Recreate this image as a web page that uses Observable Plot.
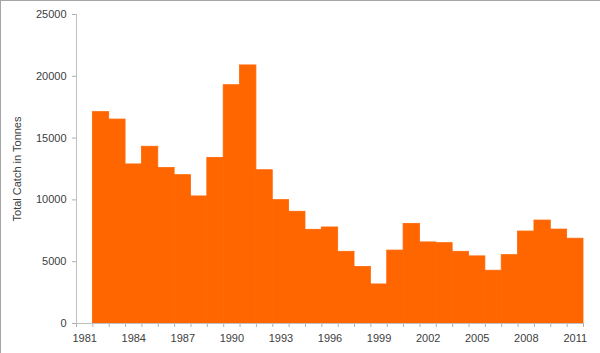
<!DOCTYPE html>
<html>
<head>
<meta charset="utf-8">
<script src="https://cdn.jsdelivr.net/npm/d3@7"></script>
<script src="https://cdn.jsdelivr.net/npm/@observablehq/plot@0.6"></script>
<style>
  html, body { margin: 0; padding: 0; background: #fff; }
  #wrap { position: relative; width: 600px; height: 353px; overflow: hidden; }
  #border { position: absolute; left: 0; top: 0; width: 600px; height: 353px; box-sizing: border-box;
            border-top: 1px solid #a6a6a6; border-left: 1px solid #a6a6a6; pointer-events: none; }
</style>
</head>
<body>
<div id="wrap"><div id="chart"></div><div id="border"></div></div>
<script>
const years = [1982, 1983, 1984, 1985, 1986, 1987, 1988, 1989, 1990, 1991,
               1992, 1993, 1994, 1995, 1996, 1997, 1998, 1999, 2000, 2001,
               2002, 2003, 2004, 2005, 2006, 2007, 2008, 2009, 2010, 2011];
const catchTonnes = [17100, 16500, 12870, 14300, 12580, 12000, 10280, 13400, 19280, 20880,
                     12400, 9980, 9040, 7580, 7770, 5800, 4570, 3160, 5900, 8060,
                     6560, 6500, 5800, 5430, 4270, 5530, 7440, 8330, 7600, 6860];
const xTickLabels = [1981, 1984, 1987, 1990, 1993, 1996, 1999, 2002, 2005, 2008, 2011];
const yTickValues = [0, 5000, 10000, 15000, 20000, 25000];
const xDomain = [1980.5, 2011.5];

const data = years.map((year, i) => ({year, value: catchTonnes[i]}));
const slotEdges = d3.range(xDomain[0], xDomain[1] + 0.01, 1);

const chart = Plot.plot({
  width: 600,
  height: 353,
  marginLeft: 76,
  marginRight: 17,
  marginTop: 14,
  marginBottom: 30,
  style: {fontFamily: "'Liberation Sans', Arial, sans-serif", fontSize: "11px", color: "#404040", background: "white"},
  x: {domain: xDomain},
  y: {domain: [0, 25000]},
  marks: [
    Plot.rectY(data, {x1: d => d.year - 0.5, x2: d => d.year + 0.5, y: "value", fill: "#FF6600",
      stroke: "#FF6600", strokeWidth: 0.8}),
    Plot.axisX(slotEdges, {tickSize: 4, tickFormat: () => "", stroke: "#b0b0b0", label: null}),
    Plot.axisX(xTickLabels, {tickSize: 0, tickPadding: 11, tickFormat: d => String(d), fill: "#404040", label: null}),
    Plot.axisY(yTickValues, {tickSize: 4, tickPadding: 6, tickFormat: d => String(d), stroke: "#b0b0b0", fill: "#404040",
      label: "Total Catch in Tonnes", labelAnchor: "center", labelArrow: "none", labelOffset: 63}),
    Plot.ruleY([0], {stroke: "#c0c0c0"}),
    Plot.ruleX([xDomain[0]], {stroke: "#c0c0c0"})
  ]
});
document.getElementById("chart").appendChild(chart);
</script>
</body>
</html>
